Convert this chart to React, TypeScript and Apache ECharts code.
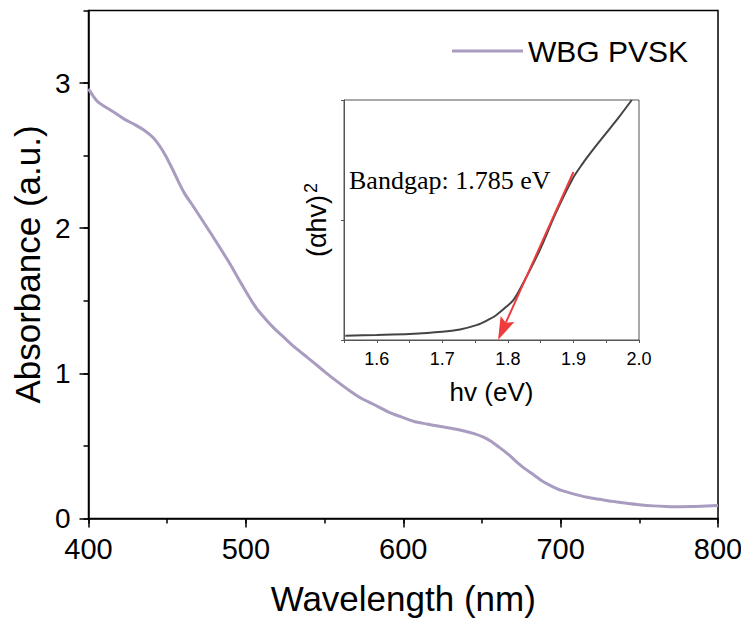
import React, { useEffect, useRef } from "react";
import * as echarts from "echarts";

// Absorbance spectrum of the wide-bandgap perovskite film
const wavelength = [400, 403, 406, 410, 416, 423, 430, 436, 441, 445, 449, 453, 457, 461, 466, 478, 489, 497, 506, 512, 518, 524, 531, 539, 548, 556, 565, 573, 581, 590, 598, 607, 615, 623, 636, 645, 651, 656, 661, 667, 672, 677, 683, 688, 693, 700, 708, 716, 725, 733, 742, 750, 759, 767, 776, 784, 793, 800];
const absorbance = [2.96, 2.91, 2.87, 2.84, 2.8, 2.75, 2.71, 2.67, 2.625, 2.57, 2.5, 2.415, 2.325, 2.24, 2.16, 1.96, 1.77, 1.62, 1.46, 1.38, 1.31, 1.25, 1.18, 1.11, 1.03, 0.96, 0.888, 0.83, 0.787, 0.737, 0.703, 0.668, 0.651, 0.635, 0.61, 0.585, 0.56, 0.53, 0.49, 0.44, 0.39, 0.345, 0.3, 0.26, 0.23, 0.195, 0.17, 0.148, 0.132, 0.118, 0.105, 0.095, 0.087, 0.083, 0.081, 0.082, 0.086, 0.09];

// Tauc plot (inset), normalised (αhν)²
const photonEnergy = [1.552, 1.6, 1.65, 1.7, 1.727, 1.752, 1.767, 1.782, 1.797, 1.808, 1.82, 1.848, 1.873, 1.899, 1.914, 1.929, 1.949, 1.97, 1.989];
const tauc = [0.018, 0.021, 0.025, 0.034, 0.044, 0.062, 0.08, 0.103, 0.137, 0.165, 0.22, 0.371, 0.529, 0.673, 0.735, 0.79, 0.859, 0.931, 1.0];

// Linear extrapolation of the absorption edge
const bandgap = 1.785;
const fitStart = [1.9, 0.7];

const SANS = "'Liberation Sans', Arial, sans-serif";
const SERIF = "'Liberation Serif', 'Times New Roman', serif";

const blackLine = { color: "#000", width: 1.5 };
const RED = "#ef3b3b";

export default function App() {
  const ref = useRef<HTMLDivElement>(null);

  useEffect(() => {
    if (!ref.current) return;
    const chart = echarts.init(ref.current, null, { renderer: "svg" });
    const mainData = wavelength.map((w, i) => [w, absorbance[i]]);
    const insetData = photonEnergy.map((e, i) => [e, tauc[i]]);

    // tangent arrow: shaft plus a filled head whose tip sits on the x intercept
    const renderArrow = (params: any, api: any) => {
      const p0 = api.coord([api.value(0), api.value(1)]);
      const p1 = api.coord([api.value(2), api.value(3)]);
      const dx = p1[0] - p0[0];
      const dy = p1[1] - p0[1];
      const len = Math.sqrt(dx * dx + dy * dy);
      const ux = dx / len;
      const uy = dy / len;
      const headLen = 23;
      const halfW = 7.5;
      const bx = p1[0] - ux * headLen;
      const by = p1[1] - uy * headLen;
      const nx = bx + ux * 4;
      const ny = by + uy * 4;
      return {
        type: "group",
        children: [
          {
            type: "line",
            shape: { x1: p0[0], y1: p0[1], x2: nx, y2: ny },
            style: { stroke: RED, lineWidth: 2 },
          },
          {
            type: "polygon",
            shape: {
              points: [
                [p1[0], p1[1]],
                [bx - uy * halfW, by + ux * halfW],
                [nx, ny],
                [bx + uy * halfW, by - ux * halfW],
              ],
            },
            style: { fill: RED },
          },
        ],
      };
    };

    chart.setOption({
      animation: false,
      backgroundColor: "#fff",
      legend: {
        data: ["WBG PVSK"],
        left: 447,
        top: 31,
        icon: "rect",
        itemWidth: 71,
        itemHeight: 3,
        textStyle: { fontSize: 30, fontFamily: SANS, color: "#000" },
      },
      grid: [
        {
          left: 88.5,
          top: 10.5,
          right: 31,
          bottom: 108.5,
          outerBoundsMode: "none",
          containLabel: false,
          show: true,
          borderColor: "#000",
          borderWidth: 1.5,
          backgroundColor: "transparent",
        },
        {
          left: 344,
          top: 100,
          right: 110,
          bottom: 287,
          outerBoundsMode: "none",
          containLabel: false,
          show: true,
          borderColor: "#555",
          borderWidth: 1,
          backgroundColor: "#fff",
          z: 5,
        },
      ],
      xAxis: [
        {
          type: "value",
          gridIndex: 0,
          position: "bottom",
          min: 400,
          max: 800,
          interval: 100,
          name: "Wavelength (nm)",
          nameLocation: "middle",
          nameGap: 62,
          nameMoveOverlap: false,
          nameTextStyle: { fontSize: 35, fontFamily: SANS, color: "#000" },
          axisLine: { lineStyle: blackLine },
          axisTick: { inside: false, length: 9, lineStyle: blackLine },
          axisLabel: { fontSize: 29, fontFamily: SANS, color: "#000", margin: 16 },
          splitLine: { show: false },
        },
        {
          type: "value",
          gridIndex: 1,
          position: "bottom",
          min: 1.55,
          max: 2.0,
          interval: 0.05,
          name: "hv (eV)",
          nameLocation: "middle",
          nameGap: 39,
          nameMoveOverlap: false,
          nameTextStyle: { fontSize: 26, fontFamily: SANS, color: "#000" },
          axisLine: { lineStyle: { color: "#555", width: 1 } },
          axisTick: { inside: false, length: 3, lineStyle: { color: "#555", width: 1 } },
          axisLabel: {
            fontSize: 18,
            fontFamily: SANS,
            color: "#000",
            margin: 10,
            formatter: (v: number) => (Math.round(v * 100) % 10 === 0 ? v.toFixed(1) : ""),
          },
          splitLine: { show: false },
          z: 6,
        },
        // short intermediate ticks every 50 nm
        {
          type: "value",
          gridIndex: 0,
          position: "bottom",
          offset: 0,
          min: 400,
          max: 800,
          interval: 50,
          axisLine: { show: false },
          axisTick: { inside: false, length: 5, lineStyle: blackLine },
          axisLabel: { show: false },
          splitLine: { show: false },
        },
      ],
      yAxis: [
        {
          type: "value",
          gridIndex: 0,
          position: "left",
          min: 0,
          max: 3.5,
          interval: 1,
          name: "Absorbance (a.u.)",
          nameLocation: "middle",
          nameGap: 44,
          nameMoveOverlap: false,
          nameTextStyle: { fontSize: 35, fontFamily: SANS, color: "#000" },
          axisLine: { lineStyle: blackLine },
          axisTick: { inside: false, length: 9, lineStyle: blackLine },
          axisLabel: { fontSize: 28, fontFamily: SANS, color: "#000", margin: 18, showMaxLabel: false },
          splitLine: { show: false },
        },
        {
          type: "value",
          gridIndex: 1,
          position: "left",
          min: 0,
          max: 1,
          interval: 0.5,
          name: "{a|(αhv)}{s|2}",
          nameLocation: "middle",
          nameGap: 12,
          nameMoveOverlap: false,
          nameTextStyle: {
            color: "#000",
            rich: {
              a: { fontSize: 27, fontFamily: SANS, color: "#000", lineHeight: 30 },
              s: { fontSize: 18, fontFamily: SANS, color: "#000", verticalAlign: "top", lineHeight: 30, padding: [0, 0, 0, 2] },
            },
          },
          axisLine: { lineStyle: { color: "#555", width: 1 } },
          axisTick: { inside: false, length: 3, lineStyle: { color: "#555", width: 1 } },
          axisLabel: { show: false },
          splitLine: { show: false },
          z: 6,
        },
        // short intermediate ticks every 0.5
        {
          type: "value",
          gridIndex: 0,
          position: "left",
          offset: 0,
          min: 0,
          max: 3.5,
          interval: 0.5,
          axisLine: { show: false },
          axisTick: { inside: false, length: 5, lineStyle: blackLine },
          axisLabel: { show: false },
          splitLine: { show: false },
        },
      ],
      series: [
        {
          name: "WBG PVSK",
          type: "line",
          xAxisIndex: 0,
          yAxisIndex: 0,
          data: mainData,
          showSymbol: false,
          smooth: 0.3,
          lineStyle: { color: "#a99cc0", width: 3 },
          itemStyle: { color: "#a99cc0" },
          z: 2,
        },
        {
          name: "Tauc",
          type: "line",
          xAxisIndex: 1,
          yAxisIndex: 1,
          data: insetData,
          showSymbol: false,
          smooth: 0.3,
          lineStyle: { color: "#444", width: 2 },
          z: 7,
        },
        {
          name: "Tangent",
          type: "custom",
          xAxisIndex: 1,
          yAxisIndex: 1,
          silent: true,
          clip: false,
          z: 9,
          renderItem: renderArrow,
          data: [[fitStart[0], fitStart[1], bandgap, 0]],
        },
      ],
      graphic: [
        {
          type: "text",
          x: 349,
          y: 180,
          z: 20,
          style: {
            text: `Bandgap: ${bandgap} eV`,
            fontSize: 26,
            fontFamily: SERIF,
            fill: "#000",
            verticalAlign: "middle",
          },
        },
      ],
    });

    return () => chart.dispose();
  }, []);

  return <div ref={ref} style={{ width: 749, height: 627, margin: -8 }} />;
}
